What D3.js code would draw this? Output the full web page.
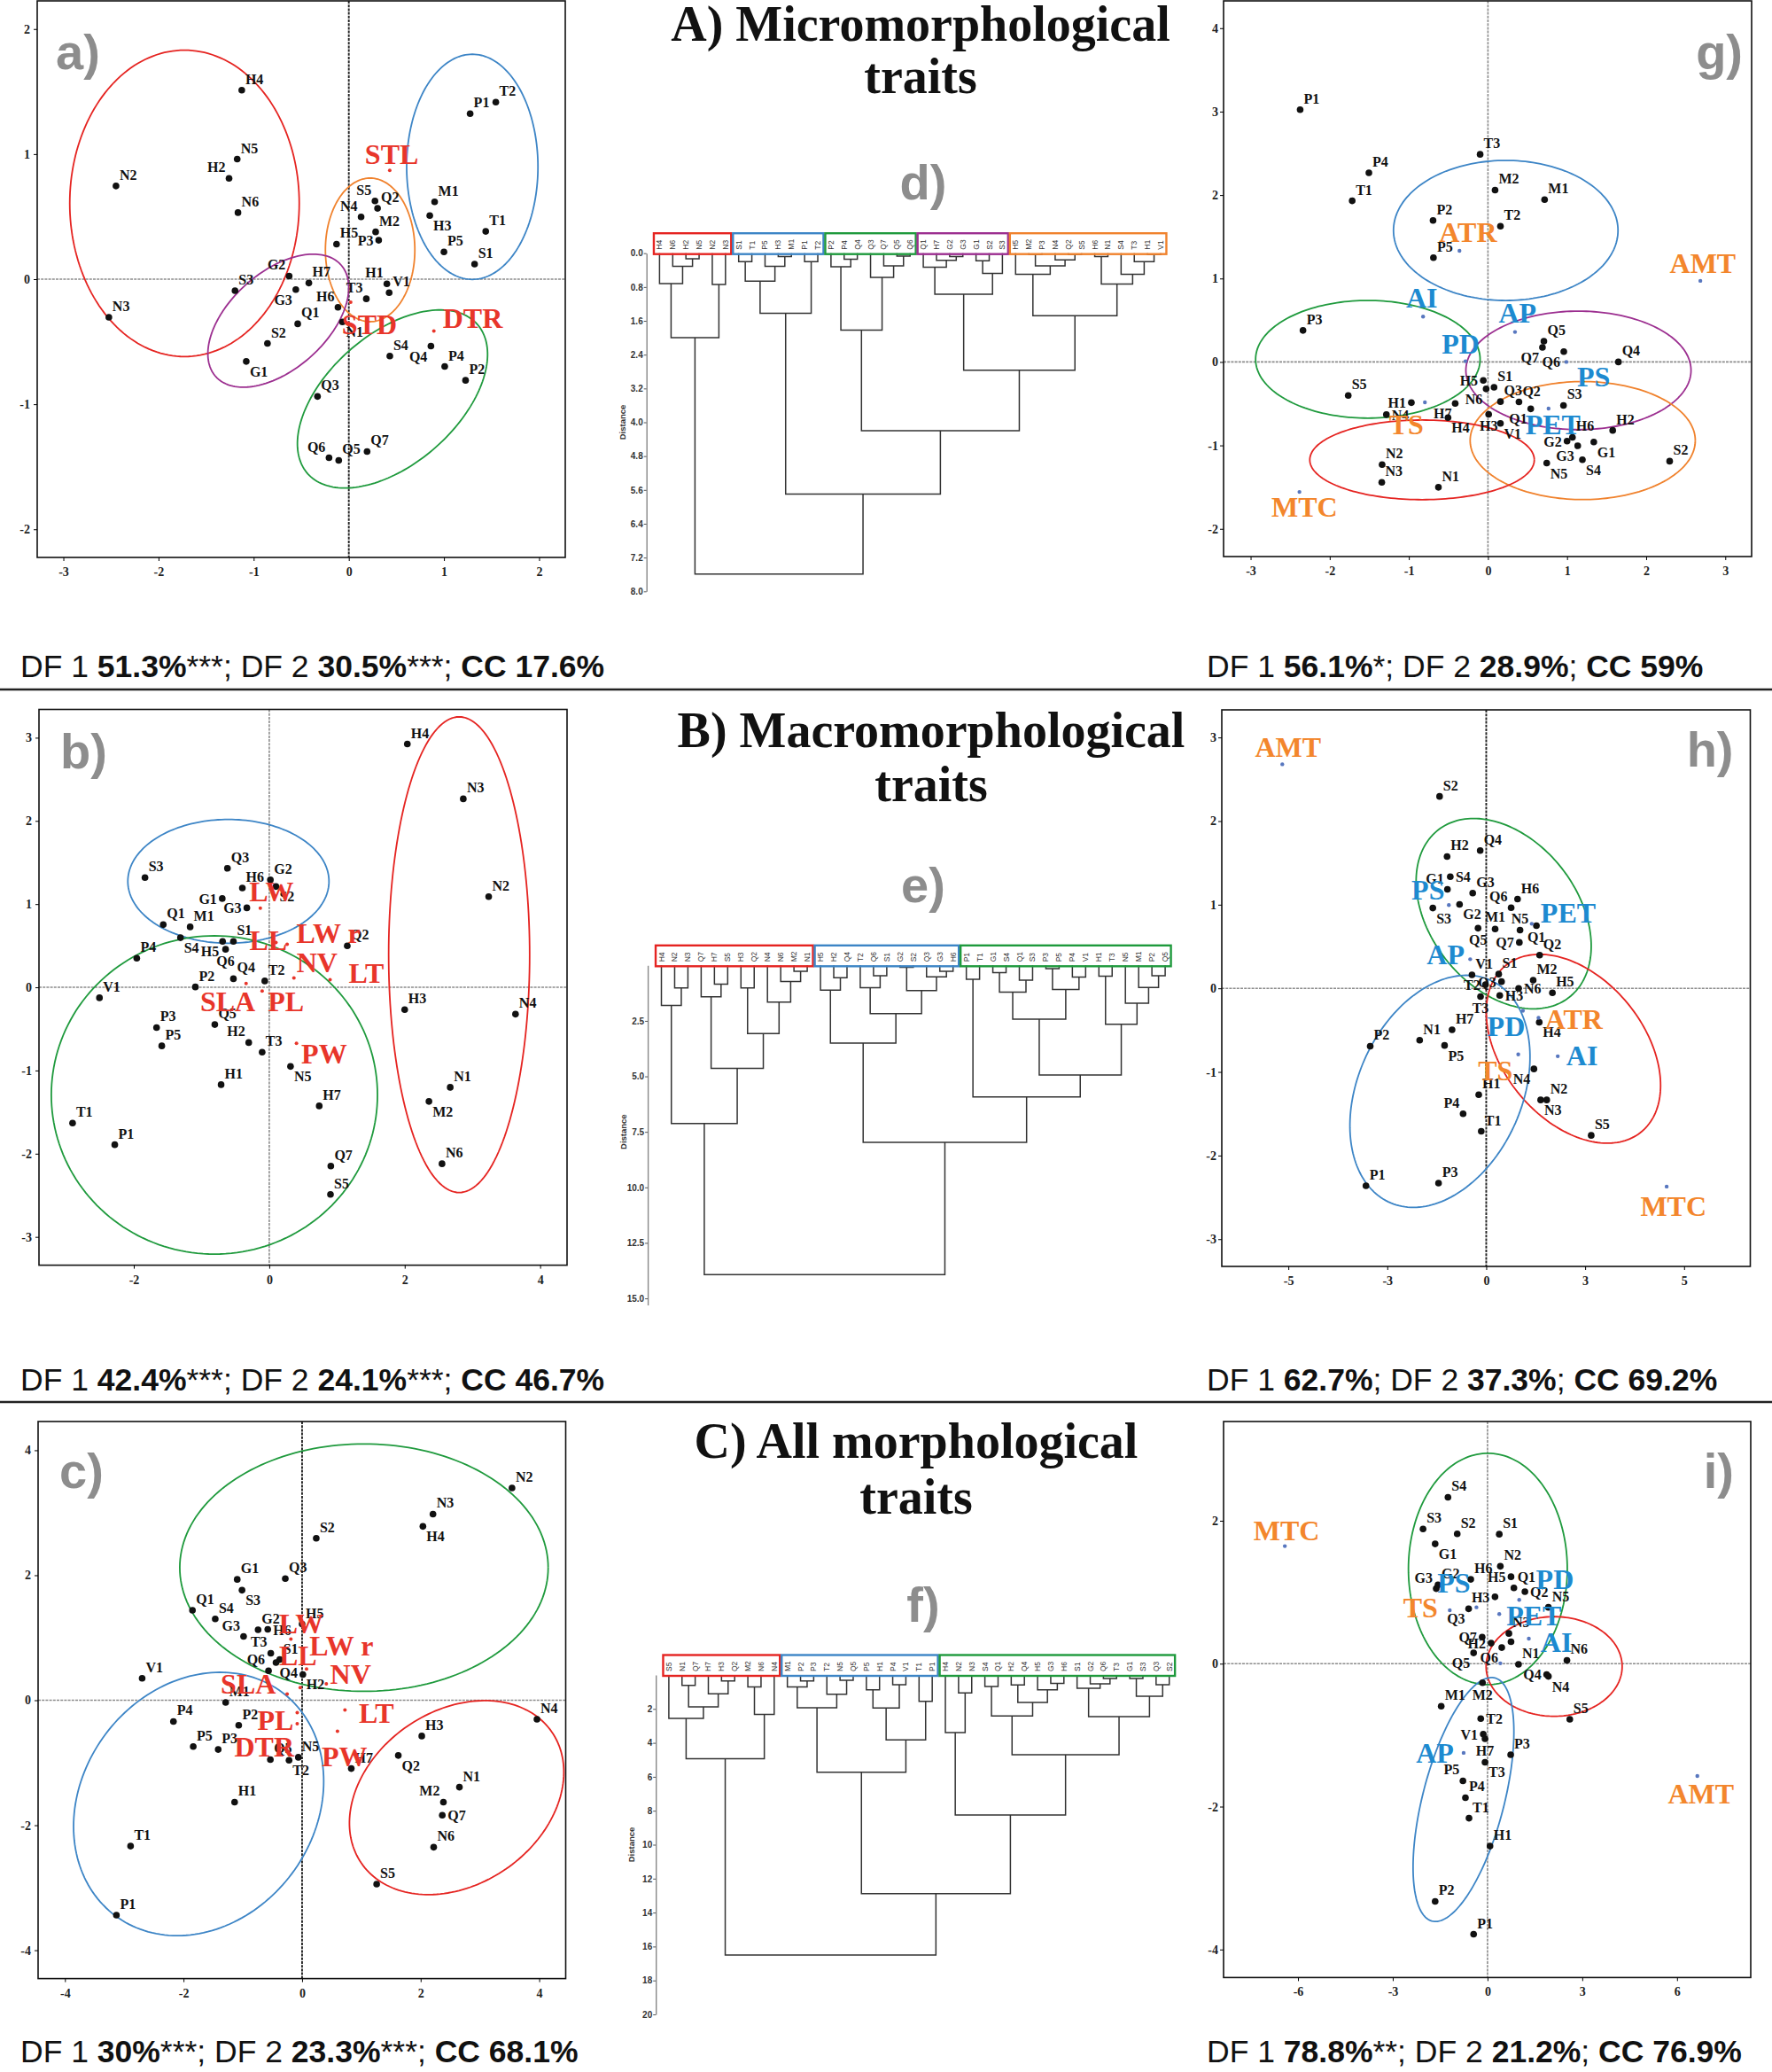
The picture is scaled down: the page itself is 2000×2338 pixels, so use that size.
<!DOCTYPE html>
<html>
<head>
<meta charset="utf-8">
<script src="https://cdn.jsdelivr.net/npm/d3@7"></script>
<style>
  body { margin: 0; background: #fff; }
  svg { display: block; }
  .pl { font-family: "Liberation Serif", "Times New Roman", serif; font-weight: bold; font-size: 16px; fill: #111; }
  .tl { font-family: "Liberation Serif", "Times New Roman", serif; font-weight: bold; font-size: 32px; }
  .sax text { font-family: "Liberation Serif", "Times New Roman", serif; font-weight: bold; font-size: 14px; fill: #222; }
  .dax text { font-family: "Liberation Sans", Arial, sans-serif; font-weight: bold; font-size: 10px; fill: #333; }
  .leaf { font-family: "Liberation Sans", Arial, sans-serif; font-size: 8.5px; fill: #333; }
  .tag { font-family: "Liberation Sans", Arial, sans-serif; font-weight: bold; font-size: 56px; fill: #8d8d8d; }
  .title { font-family: "Liberation Serif", "Times New Roman", serif; font-weight: bold; font-size: 56px; fill: #111; }
  .cap { font-family: "Liberation Sans", Arial, sans-serif; font-size: 35.5px; fill: #111; }
  .dist { font-family: "Liberation Sans", Arial, sans-serif; font-weight: bold; font-size: 9.5px; fill: #333; }
</style>
</head>
<body>
<svg id="fig" width="2000" height="2338"></svg>
<script>
// Discriminant analysis plots (a-c, g-i) and cluster dendrograms (d-f)

// ---------- scatter data: [case, DF1, DF2] ----------
const ptsA = [
  ["H4",-1.125,1.511],["N5",-1.173,0.96],["H2",-1.259,0.806],["N6",-1.165,0.532],["N2",-2.447,0.745],
  ["N3",-2.522,-0.305],["S3",-1.196,-0.092],["G2",-0.627,0.025],["G3",-0.557,-0.083],["H7",-0.42,-0.031],
  ["H6",-0.114,-0.225],["Q1",-0.537,-0.357],["S2",-0.855,-0.514],["G1",-1.078,-0.658],["N1",-0.067,-0.342],
  ["T3",0.184,-0.157],["H1",0.4,-0.037],["V1",0.424,-0.108],["H5",-0.129,0.28],["N4",0.129,0.498],
  ["S5",0.275,0.625],["Q2",0.302,0.566],["M2",0.282,0.378],["P3",0.314,0.311],["M1",0.902,0.618],
  ["H3",0.851,0.508],["P5",1.0,0.218],["T1",1.439,0.382],["S1",1.322,0.12],["P1",1.275,1.323],
  ["T2",1.545,1.415],["S4",0.431,-0.615],["Q4",0.863,-0.535],["P4",1.008,-0.698],["P2",1.227,-0.809],
  ["Q3",-0.329,-0.938],["Q6",-0.208,-1.428],["Q5",-0.106,-1.449],["Q7",0.192,-1.378]
];
const ptsB = [
  ["S3",-1.835,1.318],["Q3",-0.617,1.43],["H6",-0.397,1.193],["G2",0.017,1.291],["S2",0.099,1.211],
  ["G1",-0.694,1.067],["G3",-0.331,0.955],["Q1",-1.565,0.753],["M1",-1.168,0.726],["S4",-1.311,0.596],
  ["H5",-0.689,0.552],["S1",-0.529,0.552],["Q6",-0.645,0.457],["Q4",-0.529,0.103],["P4",-1.956,0.35],
  ["P2",-1.091,0.004],["T2",-0.066,0.076],["V1",-2.507,-0.126],["P3",-1.664,-0.484],["P5",-1.587,-0.704],
  ["Q5",-0.804,-0.448],["H2",-0.303,-0.664],["T3",-0.105,-0.78],["H1",-0.711,-1.17],["N5",0.314,-0.951],
  ["H7",0.738,-1.426],["T1",-2.904,-1.632],["P1",-2.281,-1.892],["Q7",0.909,-2.148],["S5",0.904,-2.489],
  ["Q2",1.152,0.498],["H4",2.039,2.924],["N3",2.865,2.265],["N2",3.24,1.09],["N4",3.636,-0.323],
  ["H3",2.0,-0.269],["N1",2.672,-1.202],["M2",2.358,-1.372],["N6",2.551,-2.121]
];
const ptsC = [
  ["N2",3.541,3.397],["N3",2.208,2.979],["H4",2.038,2.782],["S2",0.239,2.591],["G1",-1.094,1.934],
  ["Q3",-0.283,1.946],["S3",-1.013,1.761],["Q1",-1.849,1.439],["S4",-1.465,1.301],["G3",-0.987,1.021],
  ["G2",-0.742,1.128],["H6",-0.579,1.134],["T3",-0.528,0.752],["S1",-0.377,0.651],["Q6",-0.566,0.472],
  ["Q4",-0.44,0.603],["H5",0.0,1.218],["H2",0.013,0.412],["V1",-2.698,0.352],["M1",-1.289,-0.036],
  ["P4",-2.17,-0.34],["P2",-1.069,-0.4],["P5",-1.836,-0.74],["P3",-1.415,-0.788],["Q5",-0.535,-0.949],
  ["N5",-0.063,-0.913],["T2",-0.22,-0.961],["H1",-1.138,-1.63],["T1",-2.893,-2.334],["P1",-3.132,-3.439],
  ["H7",0.83,-1.093],["H3",2.019,-0.573],["Q2",1.623,-0.884],["N4",3.962,-0.304],["N1",2.654,-1.391],
  ["M2",2.384,-1.63],["Q7",2.365,-1.839],["N6",2.22,-2.352],["S5",1.258,-2.943]
];
const ptsG = [
  ["P1",-2.374,3.023],["P4",-1.505,2.267],["T1",-1.716,1.931],["T3",-0.099,2.488],["M2",0.09,2.06],
  ["M1",0.716,1.945],["P2",-0.694,1.696],["T2",0.158,1.627],["P5",-0.689,1.249],["P3",-2.338,0.378],
  ["S5",-1.766,-0.401],["Q5",0.707,0.249],["Q7",0.689,0.175],["Q6",0.959,0.124],["Q4",1.649,0.0],
  ["S1",0.077,-0.304],["H5",-0.059,-0.221],["Q3",0.158,-0.475],["Q2",0.392,-0.479],["S3",0.955,-0.521],
  ["N6",-0.023,-0.323],["H1",-0.968,-0.488],["N4",-1.284,-0.631],["H7",-0.414,-0.498],["H4",-0.505,-0.668],
  ["H3",0.009,-0.627],["Q1",0.541,-0.562],["V1",0.158,-0.737],["H6",1.068,-0.903],["H2",1.577,-0.82],
  ["G2",1.0,-0.949],["G3",1.135,-1.005],["G1",1.338,-0.959],["S4",1.194,-1.171],["N5",0.743,-1.212],
  ["S2",2.297,-1.189],["N2",-1.338,-1.23],["N3",-1.342,-1.442],["N1",-0.626,-1.502]
];
const ptsH = [
  ["S2",-1.414,2.295],["H2",-1.187,1.576],["Q4",-0.183,1.647],["G1",-1.176,1.183],["S4",-1.09,1.335],
  ["S3",-1.619,0.96],["G3",-0.41,1.138],["G2",-0.809,1.004],["Q5",-0.248,0.719],["H6",0.95,1.067],
  ["Q6",0.755,0.964],["M1",0.27,0.71],["N5",1.025,0.696],["Q1",1.522,0.75],["Q7",1.004,0.549],
  ["Q2",1.619,0.397],["V1",-0.432,0.161],["S1",0.378,0.17],["M2",1.424,0.098],["H5",2.007,-0.054],
  ["Q3",0.464,0.08],["T2",-0.022,0.045],["H3",0.41,-0.085],["N6",0.982,0.0],["T3",-0.173,-0.098],
  ["H7",-1.036,-0.496],["N1",-2.018,-0.621],["H4",1.608,-0.406],["P2",-3.518,-0.692],["P5",-1.263,-0.683],
  ["N4",1.446,-0.964],["H1",-0.227,-1.272],["N2",1.834,-1.335],["N3",1.651,-1.335],["P4",-0.701,-1.5],
  ["T1",-0.151,-1.71],["S5",3.183,-1.759],["P1",-3.647,-2.362],["P3",-1.446,-2.33]
];
const ptsI = [
  ["S4",-1.252,2.329],["S3",-2.041,1.885],["S2",-0.959,1.817],["S1",0.372,1.812],["G1",-1.658,1.676],
  ["N2",0.406,1.363],["H6",-0.53,1.18],["H5",0.744,1.217],["Q1",0.835,1.06],["Q2",1.184,1.008],
  ["N5",1.928,0.789],["H3",0.237,0.935],["G3",-1.624,1.05],["G2",-1.568,1.102],["Q3",-0.598,0.768],
  ["N3",0.677,0.423],["Q7",-0.169,0.371],["Q5",-0.44,0.151],["Q6",0.451,0.225],["H2",0.113,0.287],
  ["H4",0.744,0.308],["N1",0.981,-0.01],["N6",2.515,0.047],["Q4",1.872,-0.151],["N4",1.928,-0.178],
  ["S5",2.605,-0.778],["M1",-1.466,-0.595],["M2",-0.158,-0.266],["T2",-0.214,-0.768],["V1",-0.135,-0.987],
  ["H7",-0.079,-1.05],["T3",-0.079,-1.379],["P3",0.733,-1.274],["P5",-0.778,-1.64],["P4",-0.699,-1.875],
  ["T1",-0.586,-2.162],["H1",0.079,-2.553],["P2",-1.658,-3.326],["P1",-0.44,-3.786]
];

// ---------- trait centroids: [trait, DF1, DF2] ----------
const traitsA = [["STL",0.43,0.87],["STD",0.02,-0.185],["DTR",0.894,-0.415]];
const traitsB = [["LW",-0.132,0.951],["LL",0.099,0.538],["LW r",0.264,0.516],["NV",0.364,0.112],
  ["LT",0.898,0.09],["SLA",-0.342,0.045],["PL",-0.105,-0.045],["PW",0.402,-0.673]];
const traitsC = [["LW",-0.189,0.979],["LL",-0.031,0.203],["LW r",0.075,0.501],["NV",0.409,0.263],
  ["SLA",-0.252,0.101],["PL",-0.082,-0.197],["DTR",-0.082,-0.376],["LT",0.723,-0.155],["PW",0.597,-0.496]];
const traitsG = [["ATR",-0.36,1.332],["AMT",2.685,0.972],["AI",-0.82,0.544],["AP",0.342,0.359],
  ["PD",-0.284,0.009],["PS",0.991,0.0],["TS",-0.797,-0.484],["PET",0.766,-0.558],["MTC",-2.383,-1.558]];
const traitsH = [["AMT",-6.183,2.679],["PS",-1.133,0.996],["PET",1.381,0.772],["AP",-0.486,0.348],
  ["ATR",1.586,-0.353],["PD",1.111,-0.268],["AI",2.169,-0.8125],["TS",0.971,-0.79],["MTC",5.471,-2.371]];
const traitsI = [["MTC",-6.417,1.645],["PS",-0.35,0.789],["TS",-1.195,0.747],["PD",1.004,0.893],
  ["PET",0.372,0.695],["AI",1.308,0.35],["AP",-0.756,-1.248],["AMT",6.643,-1.572],["ATR",0.406,0.005]];
const orangeTraits = ["ATR","AMT","MTC","TS"];

// ---------- group ellipses: [group, centre x, centre y, semi-axis u (x,y), conjugate semi-axis v (x,y)] ----------
const ellA = [["red",-1.727,0.606,1.206,0,0,1.225],["blue",1.298,0.898,0.69,0,0,0.9],
  ["orange",0.224,0.234,0.47,0,0,0.574],["purple",-0.741,-0.332,0.667,0.4385,-0.3215,0.301],
  ["green",0.459,-0.958,0.904,0.5857,-0.426,0.405]];
const ellB = [["blue",-0.603,1.274,1.485,0,0,0.744],["green",-0.81,-1.294,2.408,0,0,1.913],
  ["red",2.804,0.392,1.041,0,0,2.859]];
const ellC = [["green",1.044,2.122,3.107,0,0,1.979],["blue",-1.745,-1.66,1.406,1.788,-1.573,1.114],
  ["red",2.607,-1.558,1.607,1.049,-0.829,1.144]];
const ellG = [["blue",0.225,1.576,1.419,0,0,0.839],["green",-1.518,0.032,1.419,0,0,0.705],
  ["purple",1.144,-0.101,1.423,0,0,0.71],["orange",1.198,-0.942,1.423,0,0,0.707],
  ["red",-0.833,-1.173,1.419,0,0,0.477]];
const ellH = [["green",0.529,0.893,2.097,-0.963,1.628,0.607],["red",2.644,-0.723,2.144,-0.964,1.546,0.588],
  ["blue",-1.403,-1.232,1.644,1.306,-2.18,0.4696]];
const ellI = [["green",0.011,1.326,2.515,0,0,1.619],["red",2.109,-0.039,2.154,0,0,0.697],
  ["blue",-0.761,-1.901,1.005,1.70,-1.24,0.157]];

// ---------- axis ticks ----------
const xtA = [-3,-2,-1,0,1,2], ytA = [-2,-1,0,1,2];
const xtB = [-2,0,2,4], ytB = [-3,-2,-1,0,1,2,3];
const xtC = [-4,-2,0,2,4], ytC = [-4,-2,0,2,4];
const xtG = [-3,-2,-1,0,1,2,3], ytG = [-2,-1,0,1,2,3,4];
const xtH = [-6,-3,0,3,6], xlabH = ["-5","-3","0","3","5"], ytH = [-3,-2,-1,0,1,2,3];
const xtI = [-6,-3,0,3,6], ytI = [-4,-2,0,2];

// ---------- dendrograms: [left, right, merge distance] ----------
const dRed = [["H4",["N6",["H2","N5",0.13],0.31],0.72],["N2","N3",0.74],2.0];
const dBlue = [[["S1","T1",0.2],["P5",["H3","M1",0.08],0.31],0.66],["P1","T2",0.2],1.42];
const dGreen = [["P2",["P4","Q4",0.14],0.32],["Q3",["Q7",["Q5","Q6",0.07],0.3],0.57],1.82];
const dPurple = [["Q1",["H7",["G2","G3",0.08],0.17],0.33],[["G1","S2",0.18],"S3",0.48],0.97];
const dOrange = [["H5",[["M2","P3",0.035],["N4",["Q2","S5",0.035],0.16],0.3],0.5],
  [["H6","N1",0.08],["S4",["T3",["H1","V1",0.035],0.2],0.5],0.73],1.48];
const treeD = [dRed,[dBlue,[dGreen,[dPurple,dOrange,2.77],4.2],5.7],7.59];

const eRed = [["H4",["N2","N3",1.02],1.8],[["Q7",["H7","S5",0.85],1.42],
  [["H3","Q2",1.02],["N4",["N6",["M2","N1",0.27],0.73],1.65],3.07],4.64],7.12];
const eBlue = [["H5",["H2","Q4",0.56],1.12],[["T2",["Q6","S1",0.47],1.01],
  [["G2","S2",0.09],["Q3",["G3","H6",0.27],0.52],1.14],2.17],3.5];
const eGreen = [["P1","T1",0.63],[[[["G1","S4",0.33],["Q1","S3",0.67],1.21],
  [["P3","P5",0.15],["P4","V1",0.53],1.09],2.42],
  [["H1","T3",0.49],["N5",["M1",["P2","Q5",0.47],1.0],1.7],2.65],4.94],5.93];
const treeE = [eRed,[eBlue,eGreen,7.97],13.93];

const fRed = [["S5",[["N1","Q7",0.61],["H7",["H3","Q2",0.35],1.11],1.88],2.56],[["M2","N6",0.7],"N4",2.32],4.93];
const fBlue = [[["M1",["P2","P3",0.35],0.71],["T2",["N5","Q5",0.31],1.13],1.93],
  [[["P5","H1",0.87],["P4","V1",0.57],1.95],["T1","P1",1.55],3.83],5.73];
const fGreen = [["H4",["N2","N3",1.06],3.39],[[["S4","Q1",0.68],[["H2","Q4",0.59],["H5",["G3","H6",0.5],0.87],1.62],2.42],
  [["S1",["G2",["Q6","T3",0.21],0.52],0.78],[["G1","S3",0.21],["Q3","S2",0.57],1.25],2.45],4.7],8.25];
const treeF = [fRed,[fBlue,fGreen,12.88],16.5];

const grpD = [["red",6],["blue",7],["green",7],["purple",7],["orange",12]];
const grpE = [["red",12],["blue",11],["green",16]];
const grpF = [["red",9],["blue",12],["green",18]];
const ticksD = [0,0.8,1.6,2.4,3.2,4.0,4.8,5.6,6.4,7.2,8.0];
const ticksE = [2.5,5,7.5,10,12.5,15];
const ticksF = [2,4,6,8,10,12,14,16,18,20];

// ---------- texts ----------
const titleLine1 = ["A) Micromorphological","B) Macromorphological","C) All morphological"];
const titleLine2 = ["traits","traits","traits"];
const capDF1 = ["51.3%","56.1%","42.4%","62.7%","30%","78.8%"];
const capSig1 = ["***","*","***","","***","**"];
const capDF2 = ["30.5%","28.9%","24.1%","37.3%","23.3%","21.2%"];
const capSig2 = ["***","","***","","***",""];
const capCC = ["17.6%","59%","46.7%","69.2%","68.1%","76.9%"];

// ---------- styling / layout ----------
const COL = { red: "#e52421", blue: "#3d85c6", green: "#1f9a3d", purple: "#9c2f90", orange: "#f0822d" };
const TCOL = { red: "#e8352a", blue: "#1d8ad0", orange: "#f3862c" };

// label placement codes per case (default upper right)
const labA = {H2:"ul",G2:"ul",G3:"ll",G1:"lr",H6:"ul",N1:"lr",T3:"ul",H1:"ul",N4:"ul",P3:"l",H3:"lr",Q4:"ll",Q6:"ul",S5:"ul"};
const labB = {S2:"lr",G1:"l",G3:"l",H5:"ll",Q6:"b",S4:"lr",H2:"ul",N5:"lr",M2:"lr"};
const labC = {H4:"lr",S3:"lr",G3:"ul",T3:"ul",H6:"r",Q6:"ul",Q4:"lr",H2:"lr",T2:"lr",Q2:"lr",M2:"ul",Q7:"r"};
const labG = {Q7:"ll",Q6:"ll",H5:"l",N6:"ll",H1:"l",N4:"r",H4:"lr",H3:"b",Q1:"ll",V1:"lr",H7:"ll",G2:"l",G3:"ll",G1:"lr",S4:"lr",N5:"lr"};
const labH = {G1:"ul",S4:"r",S3:"lr",G2:"lr",Q6:"ul",M1:"t",N5:"t",Q5:"b",Q7:"l",Q1:"b",T2:"l",Q3:"l",H3:"r",N6:"r",T3:"b",H4:"lr",P5:"lr",N4:"ll",N3:"lr",P4:"ul"};
const labI = {G1:"lr",H5:"l",Q2:"r",H3:"l",G3:"ul",Q3:"ll",Q7:"l",Q5:"ll",Q6:"ll",H2:"l",H4:"none",Q4:"l",N4:"lr",M2:"b",T2:"r",V1:"l",H7:"b",T3:"lr",P5:"ul"};

// trait label offsets in px (start, baseline) from the centroid dot
const toffA = {STL:[-28,-7],STD:[-10,36],DTR:[10,-4]};
const toffB = {"LW":[-12.6,-7.6],"LL":[-30,8.4],"LW r":[10.5,-2],"NV":[3,-7],"LT":[21,3.4],"SLA":[-51.8,31.6],"PL":[6.3,23],"PW":[5.5,23]};
const toffC = {"LW":[-13.5,-6.3],"LL":[-24,-25],"LW r":[3.4,-14.7],"NV":[4.2,0],"SLA":[-75,-0.8],"PL":[-45,19.4],"DTR":[-71,37],"LT":[15.6,14.7],"PW":[-18,40]};
const toffG = {ATR:[-22.9,-10],AMT:[-34.6,-9.1],AI:[-19.3,-10.4],AP:[-18.5,-10.4],PD:[-26.9,-8.7],PS:[12,27.3],TS:[-40.6,36],PET:[-26.1,29],MTC:[-31.7,28.2]};
const toffH = {AMT:[-30.9,-8.8],PS:[-42.2,-6.3],PET:[10,-1.3],AP:[-49,5.5],ATR:[7.2,12.6],PD:[-40.2,28.2],AI:[9.6,10.5],TS:[-45.4,29.5],MTC:[-29.7,32.8]};
const toffI = {MTC:[-35.4,-6.7],PS:[-44.2,-16.8],TS:[-52.6,8.4],PD:[18.9,-12.6],PET:[8,12.6],AI:[13.3,15.2],AP:[-53.8,11.4],AMT:[-33.3,30.7]};

const panels = [
  {tag:"a)", pts:ptsA, tr:traitsA, ell:ellA, lab:labA, toff:toffA, xd:[-3.275,2.275], yd:[-2.225,2.225], xt:xtA, yt:ytA,
   x0:42, x1:638, y0:1, y1:629, darkV:true, red:true, right:false, tagAt:[21,77]},
  {tag:"b)", pts:ptsB, tr:traitsB, ell:ellB, lab:labB, toff:toffB, xd:[-3.4,4.397], yd:[-3.34,3.34], xt:xtB, yt:ytB,
   x0:44, x1:640, y0:800.5, y1:1427.6, darkV:false, red:true, right:false, tagAt:[24,66]},
  {tag:"c)", pts:ptsC, tr:traitsC, ell:ellC, lab:labC, toff:toffC, xd:[-4.453,4.447], yd:[-4.454,4.46], xt:xtC, yt:ytC,
   x0:43, x1:638.5, y0:1604, y1:2232.6, darkV:true, red:true, right:false, tagAt:[24,75]},
  {tag:"g)", pts:ptsG, tr:traitsG, ell:ellG, lab:labG, toff:toffG, xd:[-3.342,3.333], yd:[-2.332,4.327], xt:xtG, yt:ytG,
   x0:1381, x1:1977, y0:1, y1:628, darkV:false, red:false, right:true, tagAt:[-10,77]},
  {tag:"h)", pts:ptsH, tr:traitsH, ell:ellH, lab:labH, toff:toffH, xd:[-8.018,8.007], yd:[-3.326,3.33], xt:xtH, xl:xlabH, yt:ytH,
   x0:1379, x1:1975.5, y0:801, y1:1429, darkV:true, red:false, right:true, tagAt:[-19,64]},
  {tag:"i)", pts:ptsI, tr:traitsI, ell:ellI, lab:labI, toff:toffI, xd:[-8.357,8.334], yd:[-4.392,3.389], xt:xtI, yt:ytI,
   x0:1381, x1:1976, y0:1604, y1:2231.4, darkV:false, red:false, right:true, tagAt:[-19,75]}
];

const svg = d3.select("#fig");

function placeLabel(code, px, py) {
  switch (code) {
    case "ul": return [px - 4, py - 7, "end"];
    case "ll": return [px - 4, py + 17, "end"];
    case "lr": return [px + 4, py + 17, "start"];
    case "l":  return [px - 6, py + 6, "end"];
    case "r":  return [px + 6, py + 6, "start"];
    case "b":  return [px, py + 19, "middle"];
    case "t":  return [px, py - 8, "middle"];
    default:   return [px + 4, py - 7, "start"];
  }
}

function drawScatter(p) {
  const x = d3.scaleLinear().domain(p.xd).range([p.x0, p.x1]);
  const y = d3.scaleLinear().domain(p.yd).range([p.y1, p.y0]);
  const g = svg.append("g");

  // zero reference lines
  g.append("line").attr("x1", p.x0).attr("x2", p.x1).attr("y1", y(0)).attr("y2", y(0))
    .attr("stroke", "#8c8c8c").attr("stroke-width", 1.6).attr("stroke-dasharray", "3,1.2");
  g.append("line").attr("x1", x(0)).attr("x2", x(0)).attr("y1", p.y0).attr("y2", p.y1)
    .attr("stroke", p.darkV ? "#222" : "#8c8c8c").attr("stroke-width", p.darkV ? 1.9 : 1.6)
    .attr("stroke-dasharray", "3,1.2");

  // group ellipses
  const ang = d3.range(0, 362, 2).map((a) => (a * Math.PI) / 180);
  const ring = d3.line().x((d) => x(d[0])).y((d) => y(d[1]));
  g.selectAll("path.ell").data(p.ell).join("path")
    .attr("class", "ell")
    .attr("d", (e) => ring(ang.map((t) => [
      e[1] + e[3] * Math.cos(t) + e[5] * Math.sin(t),
      e[2] + e[4] * Math.cos(t) + e[6] * Math.sin(t)])))
    .attr("fill", "none").attr("stroke", (e) => COL[e[0]]).attr("stroke-width", 1.8);

  // cases
  g.selectAll("circle.pt").data(p.pts).join("circle")
    .attr("class", "pt").attr("cx", (d) => x(d[1])).attr("cy", (d) => y(d[2]))
    .attr("r", 3.8).attr("fill", "#111");

  g.selectAll("text.pl").data(p.pts.filter((d) => p.lab[d[0]] !== "none")).join("text")
    .attr("class", "pl")
    .each(function (d) {
      const [tx, ty, anc] = placeLabel(p.lab[d[0]], x(d[1]), y(d[2]));
      d3.select(this).attr("x", tx).attr("y", ty).attr("text-anchor", anc);
    })
    .text((d) => d[0]);

  // trait centroids
  const tColor = (name) => (p.red ? TCOL.red : orangeTraits.includes(name) ? TCOL.orange : TCOL.blue);
  g.selectAll("circle.tr").data(p.tr).join("circle")
    .attr("class", "tr").attr("cx", (d) => x(d[1])).attr("cy", (d) => y(d[2]))
    .attr("r", p.red ? 2 : 2.2).attr("fill", p.red ? "#e8352a" : "#5877bf");
  g.selectAll("text.tl").data(p.tr.filter((d) => p.toff[d[0]])).join("text")
    .attr("class", "tl")
    .attr("x", (d) => x(d[1]) + p.toff[d[0]][0])
    .attr("y", (d) => y(d[2]) + p.toff[d[0]][1])
    .attr("fill", (d) => tColor(d[0]))
    .text((d) => d[0]);

  // frame
  g.append("rect").attr("x", p.x0).attr("y", p.y0).attr("width", p.x1 - p.x0).attr("height", p.y1 - p.y0)
    .attr("fill", "none").attr("stroke", "#111").attr("stroke-width", 1.6);

  // axes
  const ax = g.append("g").attr("class", "sax").attr("transform", `translate(0,${p.y1})`)
    .call(d3.axisBottom(x).tickValues(p.xt).tickSize(4).tickPadding(7)
      .tickFormat((d, i) => (p.xl ? p.xl[i] : String(d))));
  ax.select(".domain").remove();
  const ay = g.append("g").attr("class", "sax").attr("transform", `translate(${p.x0},0)`)
    .call(d3.axisLeft(y).tickValues(p.yt).tickSize(4).tickPadding(p.right ? 2 : 4)
      .tickFormat((d) => String(d)));
  ay.select(".domain").remove();

  // panel tag
  g.append("text").attr("class", "tag")
    .attr("x", p.right ? p.x1 + p.tagAt[0] : p.x0 + p.tagAt[0])
    .attr("y", p.y0 + p.tagAt[1])
    .attr("text-anchor", p.right ? "end" : "start")
    .text(p.tag);
}

panels.forEach(drawScatter);

// ---------- dendrograms ----------
const dendros = [
  {tree:treeD, grp:grpD, ticks:ticksD, fmt:d3.format(".1f"), xa:744.4, xb:1310, yz:285.7, unit:47.7, ymax:8, axX:729.7, tag:"d)", tagY:225, distMid:4},
  {tree:treeE, grp:grpE, ticks:ticksE, fmt:d3.format(".1f"), xa:746.5, xb:1315.1, yz:1089.3, unit:25.05, ymax:15.3, axX:731.1, tag:"e)", tagY:1018, distMid:7.5},
  {tree:treeF, grp:grpF, ticks:ticksF, fmt:d3.format("d"), xa:754.9, xb:1319.7, yz:1890, unit:19.15, ymax:20, axX:740.2, tag:"f)", tagY:1830, distMid:10}
];

function drawDendro(p) {
  const g = svg.append("g");
  const root = d3.hierarchy(p.tree, (d) => (Array.isArray(d) ? d.slice(0, 2) : null));
  const leaves = root.leaves().map((l) => l.data);
  const x = d3.scalePoint().domain(leaves).range([p.xa, p.xb]);
  const y = d3.scaleLinear().domain([0, p.ymax]).range([p.yz, p.yz + p.ymax * p.unit]);
  const step = x.step();

  root.eachAfter((n) => {
    n.px = n.children ? d3.mean(n.children, (c) => c.px) : x(n.data);
    n.h = n.children ? n.data[2] : 0;
  });

  const elbows = [];
  root.each((n) => {
    if (!n.children) return;
    const [a, b] = n.children;
    elbows.push([[a.px, a.h], [a.px, n.h], [b.px, n.h], [b.px, b.h]]);
  });
  const ln = d3.line().x((d) => d[0]).y((d) => y(d[1]));
  g.selectAll("path.br").data(elbows).join("path")
    .attr("d", ln).attr("fill", "none").attr("stroke", "#333").attr("stroke-width", 1.5);

  // cluster boxes
  let start = 0;
  p.grp.forEach(([c, n]) => {
    const x1 = x(leaves[start]) - step / 2 + 1;
    const x2 = x(leaves[start + n - 1]) + step / 2 - 1;
    g.append("rect").attr("x", x1).attr("y", p.yz - 22.5).attr("width", x2 - x1).attr("height", 23.5)
      .attr("fill", "none").attr("stroke", COL[c]).attr("stroke-width", 2.4);
    start += n;
  });

  g.selectAll("text.leaf").data(leaves).join("text")
    .attr("class", "leaf")
    .attr("transform", (d) => `translate(${x(d) + 3},${p.yz - 4}) rotate(-90)`)
    .text((d) => d);

  const ay = g.append("g").attr("class", "dax").attr("transform", `translate(${p.axX},0)`)
    .call(d3.axisLeft(y).tickValues(p.ticks).tickSize(3).tickSizeOuter(0).tickPadding(1).tickFormat(p.fmt));
  ay.select(".domain").attr("stroke", "#888").attr("stroke-width", 1.4);
  ay.selectAll(".tick line").attr("stroke", "#555");

  g.append("text").attr("class", "dist")
    .attr("transform", `translate(${p.axX - 24},${y(p.distMid)}) rotate(-90)`)
    .attr("text-anchor", "middle").text("Distance");

  g.append("text").attr("class", "tag").attr("x", 1042).attr("y", p.tagY)
    .attr("text-anchor", "middle").text(p.tag);
}

dendros.forEach(drawDendro);

// ---------- section titles ----------
const titleX = [1039, 1051, 1034];
const titleY = [[46, 105], [843, 904], [1645, 1708]];
titleLine1.forEach((t, i) => {
  svg.append("text").attr("class", "title").attr("x", titleX[i]).attr("y", titleY[i][0])
    .attr("text-anchor", "middle").text(t);
  svg.append("text").attr("class", "title").attr("x", titleX[i]).attr("y", titleY[i][1])
    .attr("text-anchor", "middle").text(titleLine2[i]);
});

// ---------- captions ----------
const capX = [23, 1362];
const capY = [764, 1569, 2327];
capDF1.forEach((v, i) => {
  const t = svg.append("text").attr("class", "cap").attr("x", capX[i % 2]).attr("y", capY[Math.floor(i / 2)]);
  const part = (s, bold) => t.append("tspan").attr("font-weight", bold ? "bold" : "normal").text(s);
  part("DF 1 ", false); part(v, true); part(capSig1[i], false);
  part("; DF 2 ", false); part(capDF2[i], true); part(capSig2[i], false);
  part("; ", false); part("CC " + capCC[i], true);
});

// separators between rows
[778, 1582].forEach((yy) => {
  svg.append("line").attr("x1", 0).attr("x2", 2000).attr("y1", yy).attr("y2", yy)
    .attr("stroke", "#222").attr("stroke-width", 2.6);
});
</script>
</body>
</html>
